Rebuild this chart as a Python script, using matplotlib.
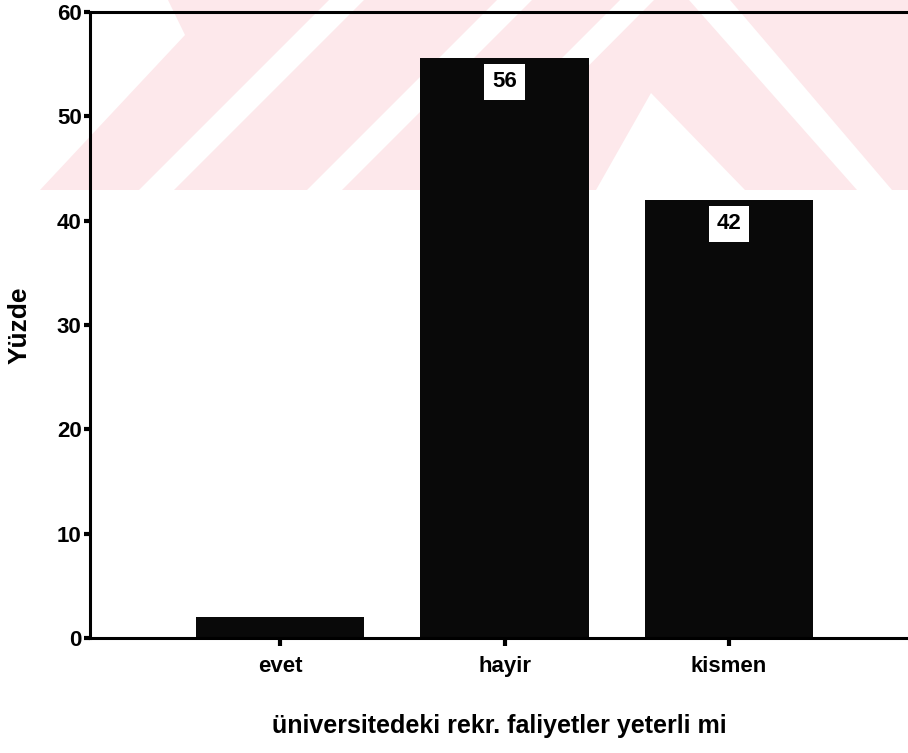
import matplotlib
matplotlib.use('Agg')
import matplotlib.pyplot as plt
from matplotlib.patches import Polygon

plt.rcParams['font.family'] = ['Liberation Sans', 'DejaVu Sans']

# data
categories = ['evet', 'hayir', 'kismen']
values = [2.0, 55.6, 42.0]
bar_labels = ['', '56', '42']
yticks = [0, 10, 20, 30, 40, 50, 60]

W, H = 908, 753
fig = plt.figure(figsize=(W / 100, H / 100), dpi=100)

# faint pink thesis watermark behind the chart (pixel coords, y down)
wm_shapes = [
    [(40, 190), (139, 190), (329, 0), (168, 0), (185, 35)],
    [(174, 190), (307, 190), (497, 0), (364, 0)],
    [(342, 190), (430, 190), (620, 0), (532, 0)],
    [(465, 190), (596, 190), (651, 93), (745, 190), (857, 190), (689, 0), (654, 0)],
    [(730, 0), (908, 0), (908, 190), (892, 190)],
]
for shp in wm_shapes:
    pts = [(x / W, 1 - y / H) for x, y in shp]
    fig.patches.append(Polygon(pts, closed=True, transform=fig.transFigure,
                               facecolor='#fde8eb', edgecolor='none', zorder=-5))

ax = fig.add_axes([90 / W, 1 - 638 / H, 1 - 90 / W, (638 - 12) / H])
ax.set_facecolor('none')

x = range(len(categories))
ax.bar(x, values, width=0.75, color='#090909', zorder=2)

for i, (v, lab) in enumerate(zip(values, bar_labels)):
    if lab:
        ax.text(i, v - 2.3, lab, ha='center', va='center', fontsize=16,
                fontweight='bold', color='black', zorder=3,
                bbox=dict(boxstyle='square,pad=0.35', facecolor='white', edgecolor='none'))

ax.set_xlim(-0.846, 2.797)
ax.set_ylim(0, 60)
ax.set_yticks(yticks)
ax.set_xticks(list(x))
ax.set_xticklabels(categories)
for lbl in ax.get_xticklabels() + ax.get_yticklabels():
    lbl.set_fontweight('bold')

for s in ['left', 'top', 'bottom']:
    ax.spines[s].set_linewidth(2.2)
    ax.spines[s].set_color('black')
ax.spines['right'].set_visible(False)

ax.tick_params(axis='y', direction='out', length=4, width=3, labelsize=16, pad=2)
ax.tick_params(axis='x', direction='out', length=6, width=3, labelsize=16, pad=7)

ax.set_ylabel('Yüzde', fontsize=19, fontweight='bold', va='center')
ax.yaxis.set_label_coords(-70 / 818, 0.5)
ax.set_xlabel('üniversitedeki rekr. faliyetler yeterli mi', fontsize=18,
              fontweight='bold', va='center')
ax.xaxis.set_label_coords(0.5, (638 - 726) / 626)

fig.savefig('out.png', dpi=100)
